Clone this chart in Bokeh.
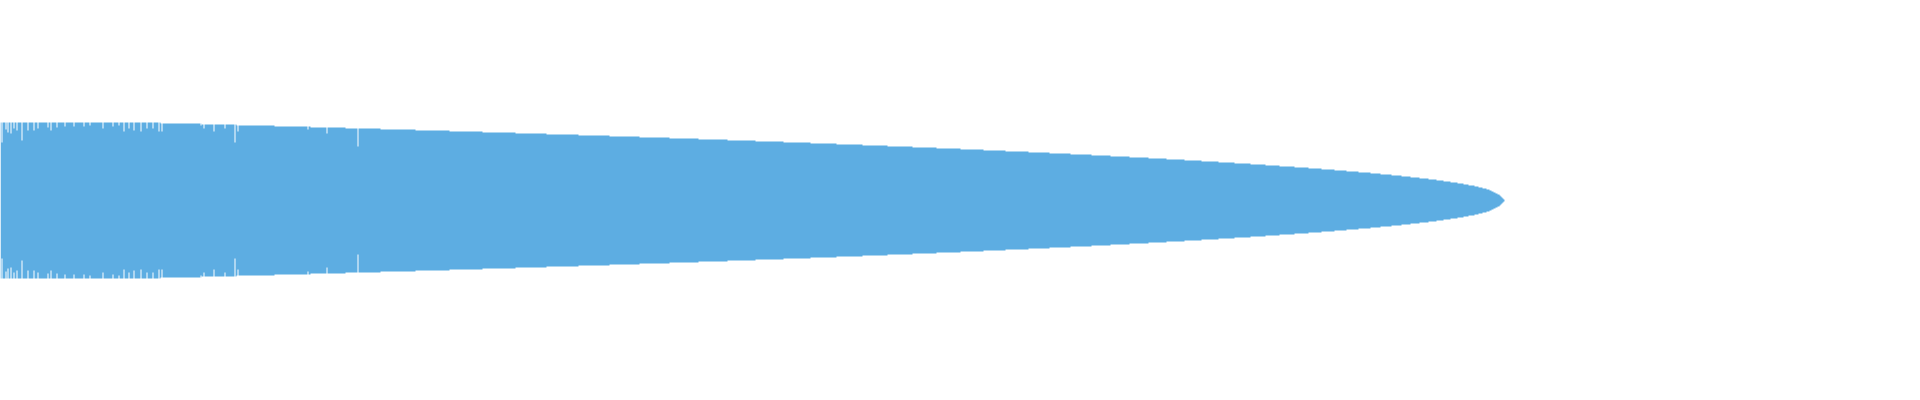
from bokeh.plotting import figure
from bokeh.models import Range1d, ColumnDataSource
from bokeh.embed import file_html
from bokeh.resources import INLINE

# right edge of each step and the half-height of the shape on that step
step_right = [160, 201, 236, 274, 310, 345, 380, 415, 449, 482,
              515, 546, 578, 609, 639, 669, 698, 727, 755, 783,
              810, 836, 862, 887, 912, 936, 960, 983, 1005, 1028,
              1049, 1070, 1091, 1110, 1129, 1148, 1166, 1184, 1201, 1218,
              1234, 1250, 1265, 1279, 1294, 1308, 1321, 1334, 1346, 1358,
              1370, 1380, 1391, 1401, 1410, 1419, 1428, 1436, 1443, 1450,
              1457, 1463, 1468, 1474, 1478, 1482, 1486, 1489, 1491, 1493,
              1495, 1497, 1499, 1500, 1501, 1502, 1503, 1504]
step_h = [78, 77, 76, 75, 74, 73, 72, 71, 70, 69,
          68, 67, 66, 65, 64, 63, 62, 61, 60, 59,
          58, 57, 56, 55, 54, 53, 52, 51, 50, 49,
          48, 47, 46, 45, 44, 43, 42, 41, 40, 39,
          38, 37, 36, 35, 34, 33, 32, 31, 30, 29,
          28, 27, 26, 25, 24, 23, 22, 21, 20, 19,
          18, 17, 16, 15, 14, 13, 12, 11, 10, 9,
          8, 7, 6, 5, 4, 3, 2, 1]

# thin gaps between the dense bars at the left, and the half-height where the fill resumes
gap_x = [1, 5, 7, 10, 13, 16, 21, 27, 33, 37, 47, 50, 56, 64, 73, 83, 89, 102, 112, 118,
         123, 128, 133, 140, 146, 152, 158, 161, 200, 203, 213, 224, 234, 237, 307, 326, 357]
gap_inner = [58, 71, 68, 67, 72, 70, 60, 70, 70, 72, 73, 70, 73, 74, 74, 74, 75, 72, 74, 75,
             69, 72, 70, 69, 72, 72, 69, 69, 75, 72, 69, 72, 58, 69, 71, 67, 54]

W, H = 1920, 400
p = figure(width=W, height=H, output_backend="svg", toolbar_location=None,
           x_range=Range1d(0, W), y_range=Range1d(-H / 2, H / 2),
           min_border=0, min_border_left=0, min_border_right=0,
           min_border_top=0, min_border_bottom=0)
p.axis.visible = False
p.xgrid.visible = False
p.ygrid.visible = False
p.outline_line_color = None
p.background_fill_color = "white"
p.border_fill_color = "white"

# build the stepped outline (upper edge left->right, lower edge right->left)
lefts = [0] + step_right[:-1]
xs, ys = [], []
for l, r, h in zip(lefts, step_right, step_h):
    xs += [l, r]
    ys += [h, h]
for l, r, h in reversed(list(zip(lefts, step_right, step_h))):
    xs += [r, l]
    ys += [-h, -h]
p.patch(xs, ys, fill_color="#5DADE2", line_color=None)

gtop = max(step_h) + 2
gsrc_top = ColumnDataSource(dict(left=gap_x, right=[g + 1 for g in gap_x],
                                 top=[gtop] * len(gap_x), bottom=gap_inner))
gsrc_bot = ColumnDataSource(dict(left=gap_x, right=[g + 1 for g in gap_x],
                                 top=[-g for g in gap_inner], bottom=[-gtop] * len(gap_x)))
p.quad(left="left", right="right", top="top", bottom="bottom", source=gsrc_top,
       fill_color="white", line_color=None)
p.quad(left="left", right="right", top="top", bottom="bottom", source=gsrc_bot,
       fill_color="white", line_color=None)

open("out.html", "w").write(file_html(p, INLINE))
